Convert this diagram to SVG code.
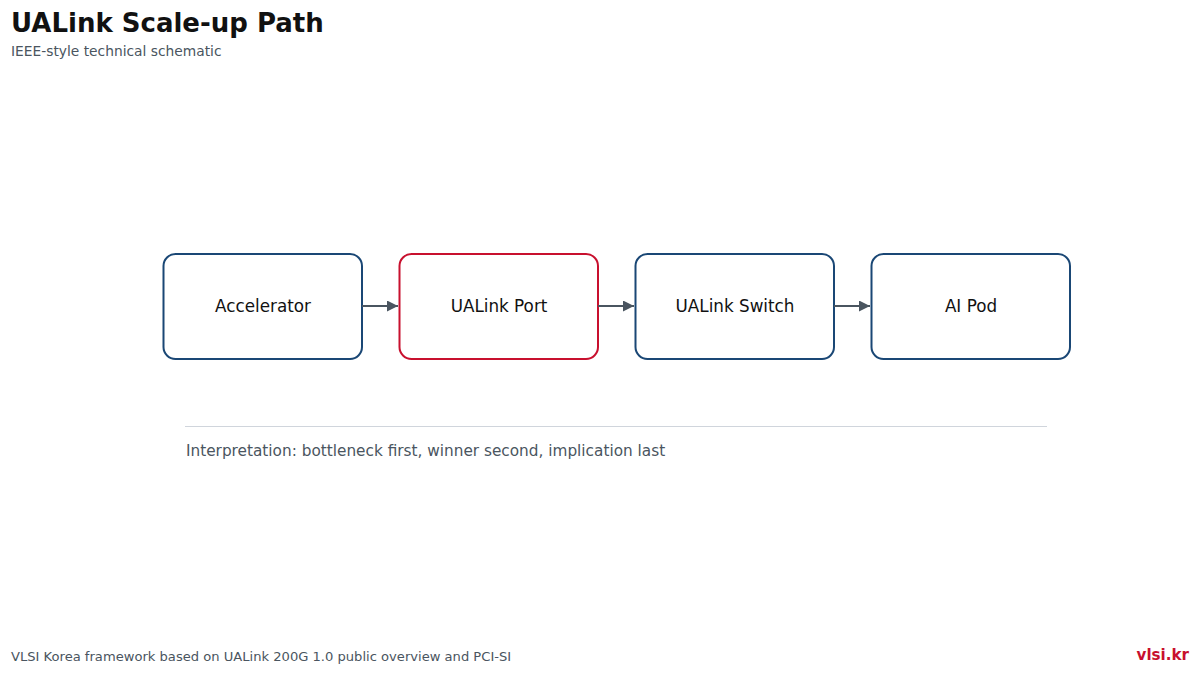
<svg xmlns="http://www.w3.org/2000/svg" width="1200" height="674" viewBox="0 0 1200 674">
<style>
text{font-family:"DejaVu Sans","Liberation Sans",sans-serif}
.box{fill:#fff;stroke:#1a4775;stroke-width:2}
.hl{stroke:#c8102e}
.lbl{font-size:16.8px;fill:#111;text-anchor:middle;dominant-baseline:central}
.conn{stroke:#4a5560;stroke-width:2;fill:none}
</style>
<defs>
<marker id="ah" viewBox="0 0 10 10" refX="10" refY="5" markerWidth="11" markerHeight="11" markerUnits="userSpaceOnUse" orient="auto">
<path d="M0,0L10,5L0,10z" fill="#4a5560"/>
</marker>
</defs>
<rect width="1200" height="674" fill="#fff"/>
<text x="11" y="32" font-size="26" font-weight="bold" fill="#111">UALink Scale-up Path</text>
<text x="11" y="56" font-size="13.8" fill="#4a5560">IEEE-style technical schematic</text>
<g id="n1"><rect class="box" x="163.5" y="254" width="198.5" height="105" rx="12"/><text class="lbl" x="263" y="306">Accelerator</text></g>
<g id="n2"><rect class="box hl" x="399.5" y="254" width="198.5" height="105" rx="12"/><text class="lbl" x="499" y="306">UALink Port</text></g>
<g id="n3"><rect class="box" x="635.5" y="254" width="198.5" height="105" rx="12"/><text class="lbl" x="735" y="306">UALink Switch</text></g>
<g id="n4"><rect class="box" x="871.5" y="254" width="198.5" height="105" rx="12"/><text class="lbl" x="971" y="306">AI Pod</text></g>
<g id="connectors">
<line class="conn" x1="362" y1="306" x2="398" y2="306" marker-end="url(#ah)"/>
<line class="conn" x1="598" y1="306" x2="634" y2="306" marker-end="url(#ah)"/>
<line class="conn" x1="834" y1="306" x2="870" y2="306" marker-end="url(#ah)"/>
</g>
<line x1="185" y1="426.5" x2="1047" y2="426.5" stroke="#d0d5dc" stroke-width="1"/>
<text x="186" y="456" font-size="15.3" fill="#4a5560">Interpretation: bottleneck first, winner second, implication last</text>
<text x="11" y="661" font-size="13.1" fill="#4a5560">VLSI Korea framework based on UALink 200G 1.0 public overview and PCI-SI</text>
<text x="1189" y="660" font-size="15.1" font-weight="bold" fill="#c8102e" text-anchor="end">vlsi.kr</text>
</svg>
